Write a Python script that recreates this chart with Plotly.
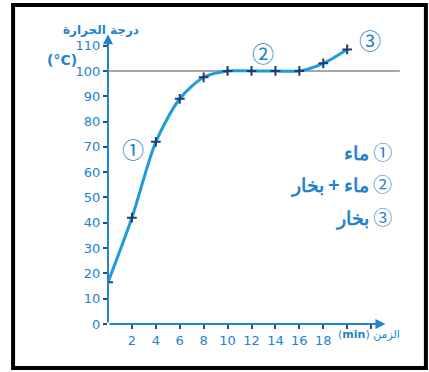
import plotly.graph_objects as go

time_min = [0, 2, 4, 6, 8, 10, 12, 14, 16, 18, 20]
temp_c = [16.5, 42, 72, 89, 97.5, 100, 100, 100, 100, 103, 108.5]

y_ticks = [0, 10, 20, 30, 40, 50, 60, 70, 80, 90, 100, 110]
x_ticks = [2, 4, 6, 8, 10, 12, 14, 16, 18, 20, 22]
x_ticktext = ["2", "4", "6", "8", "10", "12", "14", "16", "18", "", ""]

phase_marks = ["①", "②", "③"]
phase_x = [2.1, 13.0, 21.9]
phase_y = [69.5, 107.5, 112.5]
legend_lines = ["<b>ماء</b> ①", "<b>ماء + بخار</b> ②", "<b>بخار</b> ③"]

BLUE = "#2283cf"
CURVE = "#1e9bd9"
FONT = "DejaVu Sans"

fig = go.Figure()
fig.add_trace(
    go.Scatter(
        x=time_min,
        y=temp_c,
        mode="lines+markers",
        line=dict(color=CURVE, width=3, shape="spline", smoothing=0.8),
        marker=dict(symbol="cross-thin", size=7, line=dict(color="#1c3d6e", width=2)),
        showlegend=False,
        hoverinfo="skip",
    )
)

# boiling line
fig.add_shape(type="line", x0=0, x1=24.4, y0=100, y1=100,
              line=dict(color="#8a8a8a", width=1.5), layer="below")

# axis arrows
fig.add_annotation(x=23.2, y=0, ax=0, ay=0, xref="x", yref="y", axref="x", ayref="y",
                   showarrow=True, arrowhead=2, arrowsize=1, arrowwidth=2, arrowcolor=BLUE, text="")
fig.add_annotation(x=0, y=114.5, ax=0, ay=0, xref="x", yref="y", axref="x", ayref="y",
                   showarrow=True, arrowhead=2, arrowsize=1, arrowwidth=2, arrowcolor=BLUE, text="")

for t, x, y in zip(phase_marks, phase_x, phase_y):
    fig.add_annotation(x=x, y=y, text=t, showarrow=False,
                       font=dict(family="Noto Sans CJK SC", size=22, color=BLUE))

for i, t in enumerate(legend_lines):
    fig.add_annotation(x=0.975, y=0.594 - i * 0.112, xref="paper", yref="paper",
                       xanchor="right", text=t, showarrow=False,
                       font=dict(family="Noto Sans CJK SC", size=19, color=BLUE))

# axis titles
fig.add_annotation(x=-0.16, y=1.04, xref="paper", yref="paper", text="<b>درجة الحرارة</b>",
                   showarrow=False, font=dict(family=FONT, size=12, color=BLUE))
fig.add_annotation(x=-0.215, y=0.94, xref="paper", yref="paper", text="<b>(°C)</b>",
                   showarrow=False, font=dict(family=FONT, size=14, color=BLUE))
fig.add_annotation(x=1.005, y=-0.065, xref="paper", yref="paper", xanchor="right",
                   text="(<b>min</b>) الزمن", showarrow=False,
                   font=dict(family=FONT, size=11, color=BLUE))

# frame
fig.add_shape(type="rect", xref="paper", yref="paper", x0=-0.324, x1=1.085, y0=-0.151, y1=1.096,
              line=dict(color="black", width=4))

fig.update_xaxes(
    range=[0, 24.5], showgrid=False, zeroline=False, showline=False,
    tickmode="array", tickvals=x_ticks, ticktext=x_ticktext,
    ticks="outside", ticklen=4, tickwidth=1.5, tickcolor="#2b4b7a",
    tickfont=dict(family=FONT, size=13, color=BLUE),
)
fig.update_yaxes(
    range=[0, 115], showgrid=False, zeroline=False, showline=False,
    tickmode="array", tickvals=y_ticks,
    ticks="outside", ticklen=4, tickwidth=2, tickcolor="#2b4b7a",
    tickfont=dict(family=FONT, size=13, color=BLUE),
)
fig.update_layout(
    width=429, height=372,
    margin=dict(l=108, r=28, t=33, b=48),
    plot_bgcolor="white", paper_bgcolor="white",
)

fig.write_html("out.html", config={"displayModeBar": False},
               post_script="document.body.style.margin='0px';")
